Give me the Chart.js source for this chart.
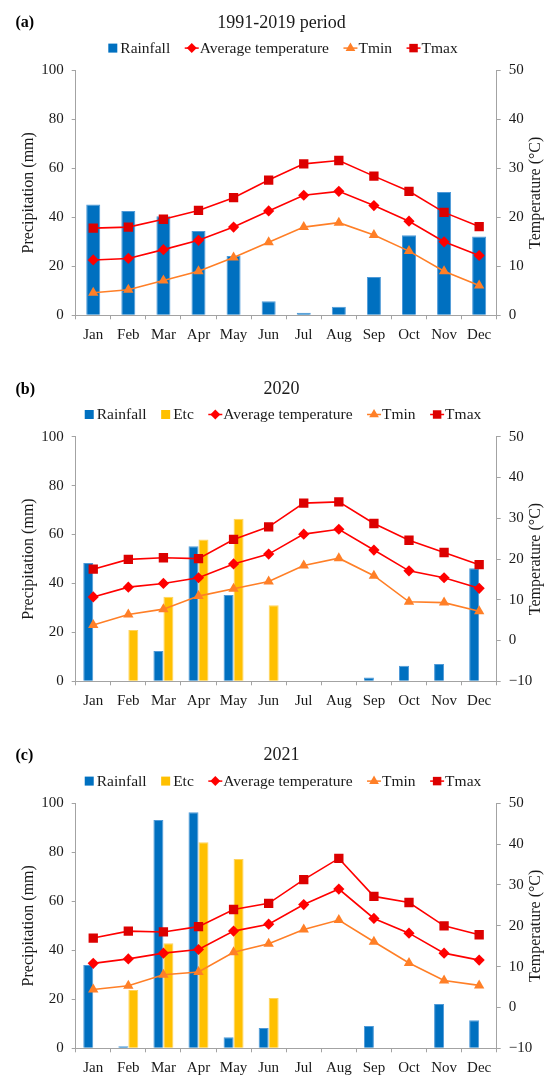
<!DOCTYPE html>
<html>
<head>
<meta charset="utf-8">
<script src="https://cdn.jsdelivr.net/npm/chart.js@4.4.1/dist/chart.umd.min.js"></script>
<style>
  html, body { margin: 0; padding: 0; background: #fff; }
  body { width: 545px; height: 1075px; position: relative; overflow: hidden; }
  .panel { position: absolute; left: 0; width: 545px; }
</style>
</head>
<body>
<div class="panel" style="top:0;height:366px"><canvas id="chartA"></canvas></div>
<div class="panel" style="top:366px;height:366px"><canvas id="chartB"></canvas></div>
<div class="panel" style="top:732px;height:343px"><canvas id="chartC"></canvas></div>
<script>
// ---- data ----
const months = ['Jan', 'Feb', 'Mar', 'Apr', 'May', 'Jun', 'Jul', 'Aug', 'Sep', 'Oct', 'Nov', 'Dec'];

// (a) 1991-2019 long-term means
const rain1991 = [45.2, 42.6, 40.4, 34.4, 24.2, 5.7, 1.0, 3.5, 15.6, 32.7, 50.3, 32.2];
const tavg1991 = [11.3, 11.6, 13.4, 15.3, 18.0, 21.3, 24.5, 25.3, 22.4, 19.2, 15.0, 12.2];
const tmin1991 = [4.6, 5.2, 7.1, 9.0, 11.8, 14.9, 18.0, 18.9, 16.4, 13.1, 9.0, 6.1];
const tmax1991 = [17.8, 18.0, 19.6, 21.4, 24.0, 27.6, 30.9, 31.6, 28.4, 25.3, 21.0, 18.1];

// (b) 2020
const rain2020 = [48.4, null, 12.4, 55.2, 35.3, null, null, null, 1.6, 6.4, 7.1, 46.2];
const etc2020  = [null, 21.0, 34.6, 58.0, 66.5, 31.1, null, null, null, null, null, null];
const tavg2020 = [10.7, 13.1, 14.0, 15.4, 18.8, 21.2, 26.1, 27.3, 22.2, 17.1, 15.4, 12.8];
const tmin2020 = [3.8, 6.4, 7.7, 10.9, 12.7, 14.5, 18.4, 20.2, 15.9, 9.5, 9.3, 7.2];
const tmax2020 = [17.5, 19.9, 20.3, 20.1, 24.8, 27.9, 33.7, 34.0, 28.7, 24.6, 21.6, 18.6];

// (c) 2021
const rain2021 = [34.0, 0.8, 93.2, 96.3, 4.5, 8.3, null, null, 9.1, null, 18.1, 11.4];
const etc2021  = [null, 23.8, 42.9, 84.1, 77.3, 20.5, null, null, null, null, null, null];
const tavg2021 = [10.8, 11.9, 13.3, 14.2, 18.7, 20.4, 25.2, 29.0, 21.8, 18.2, 13.3, 11.6];
const tmin2021 = [4.4, 5.3, 8.0, 8.7, 13.5, 15.6, 19.1, 21.4, 16.1, 10.9, 6.6, 5.4];
const tmax2021 = [17.0, 18.7, 18.5, 19.8, 24.0, 25.5, 31.3, 36.5, 27.2, 25.7, 20.0, 17.8];

// axis ranges
const precipTicks = { min: 0, max: 100, step: 20 };
const tempTicksA = { min: 0, max: 50, step: 10 };
const tempTicksBC = { min: -10, max: 50, step: 10 };

// ---- styling ----
const SERIF = "'Liberation Serif', 'Times New Roman', serif";
const AXIS_GREY = '#A3A3A3';
const TEXT = '#1a1a1a';
const BLUE = '#0070C0';
const GOLD = '#FFC000';
const RED = '#FF0000';
const DARK_RED = '#DC0000';
const ORANGE = '#FF7F27';

Chart.defaults.font.family = SERIF;
Chart.defaults.color = TEXT;

function drawMarker(ctx, style, x, y, r) {
  ctx.beginPath();
  if (style === 'rect') {
    const s = r * Math.SQRT2;
    ctx.rect(x - s / 2, y - s / 2, s, s);
  } else if (style === 'rectRot') {
    ctx.moveTo(x, y - r); ctx.lineTo(x + r, y); ctx.lineTo(x, y + r); ctx.lineTo(x - r, y);
    ctx.closePath();
  } else if (style === 'triangle') {
    for (let k = 0; k < 3; k++) {
      const a = k * 2 * Math.PI / 3;
      const px = x + Math.sin(a) * r, py = y - Math.cos(a) * r;
      if (k === 0) ctx.moveTo(px, py); else ctx.lineTo(px, py);
    }
    ctx.closePath();
  }
  ctx.fill();
}

// legend row, panel tag and right-hand axis title
const panelDecor = {
  id: 'panelDecor',
  afterDraw(chart, args, opts) {
    const ctx = chart.ctx;
    const area = chart.chartArea;
    ctx.save();
    ctx.fillStyle = '#000';
    ctx.textBaseline = 'middle';

    // panel tag
    ctx.font = `bold 16px ${SERIF}`;
    ctx.textAlign = 'left';
    ctx.fillText(opts.tag, 15.5, area.top - 47);

    // right axis title, reading bottom to top
    ctx.save();
    ctx.translate(opts.rightTitleX, (area.top + area.bottom) / 2);
    ctx.rotate(-Math.PI / 2);
    ctx.font = `16px ${SERIF}`;
    ctx.textAlign = 'center';
    ctx.fillStyle = TEXT;
    ctx.fillText(opts.rightTitle, 0, 0);
    ctx.restore();

    // legend
    ctx.font = `15.5px ${SERIF}`;
    ctx.textAlign = 'left';
    const items = chart.data.datasets.map(ds => {
      const isLine = ds.type === 'line';
      const mark = isLine ? 15 : 12;
      return { ds, isLine, mark, w: mark + ctx.measureText(ds.label).width };
    });
    const gap = 14.5;
    const total = items.reduce((s, it) => s + it.w, 0) + gap * (items.length - 1);
    let x = opts.legendCenter - total / 2;
    const y = area.top - 22.2;
    items.forEach(it => {
      const ds = it.ds;
      if (it.isLine) {
        ctx.strokeStyle = ds.borderColor;
        ctx.lineWidth = 1.5;
        ctx.beginPath(); ctx.moveTo(x, y); ctx.lineTo(x + 14, y); ctx.stroke();
        ctx.fillStyle = ds.pointBackgroundColor;
        drawMarker(ctx, ds.pointStyle, x + 7, y, ds.legendRadius);
      } else {
        ctx.fillStyle = ds.backgroundColor;
        ctx.fillRect(x, y - 4.5, 9, 9);
      }
      ctx.fillStyle = TEXT;
      ctx.fillText(ds.label, x + it.mark, y + 0.5);
      x += it.w + gap;
    });
    ctx.restore();
  }
};

function barSet(label, data, color, edge, pct) {
  return {
    type: 'bar', label, data, yAxisID: 'y',
    backgroundColor: color, borderColor: edge,
    borderWidth: { top: 1, left: 1, right: 1, bottom: 0 },
    categoryPercentage: pct, barPercentage: 1, order: 1
  };
}

function lineSet(label, data, color, pointColor, style, radius, legendRadius) {
  return {
    type: 'line', label, data, yAxisID: 'y1',
    borderColor: color, borderWidth: 1.6, tension: 0,
    pointStyle: style, pointRadius: radius, pointBorderWidth: 0,
    pointBackgroundColor: pointColor, pointBorderColor: pointColor,
    legendRadius, order: 0
  };
}

function makePanel(id, cfg) {
  const bars = cfg.etc ? 0.57 : 0.4;
  const datasets = [barSet('Rainfall', cfg.rain, BLUE, '#4F9AD8', bars)];
  if (cfg.etc) datasets.push(barSet('Etc', cfg.etc, GOLD, '#FFD35C', bars));
  datasets.push(lineSet('Average temperature', cfg.tavg, RED, RED, 'rectRot', 5.6, 5));
  datasets.push(lineSet('Tmin', cfg.tmin, ORANGE, ORANGE, 'triangle', 6, 5.6));
  datasets.push(lineSet('Tmax', cfg.tmax, RED, DARK_RED, 'rect', 6.6, 6));

  const plotLeft = 75.7, plotRight = 496.7, padLeft = 18;
  const tickFont = { family: SERIF, size: 15 };

  return new Chart(document.getElementById(id), {
    type: 'bar',
    data: { labels: months, datasets },
    options: {
      responsive: true, maintainAspectRatio: false, animation: false,
      devicePixelRatio: 1, events: [],
      layout: { padding: { left: padLeft, right: 0, top: 0, bottom: 0 } },
      plugins: {
        legend: { display: false },
        tooltip: { enabled: false },
        title: {
          display: true, text: cfg.title, color: TEXT,
          font: { family: SERIF, size: 18, weight: 'normal' },
          padding: { top: 12.5, bottom: cfg.top - 34.1 }
        },
        panelDecor: { tag: cfg.tag, rightTitle: 'Temperature (°C)', rightTitleX: 536, legendCenter: 283 }
      },
      scales: {
        x: {
          grid: { display: true, drawOnChartArea: false, drawTicks: true, tickLength: 4, color: AXIS_GREY, offset: true },
          border: { display: true, color: AXIS_GREY, width: 1 },
          ticks: { font: tickFont, color: TEXT, padding: 7, maxRotation: 0, autoSkip: false },
          afterFit: s => { s.height = cfg.height - cfg.bottom; }
        },
        y: {
          position: 'left',
          min: precipTicks.min, max: precipTicks.max,
          ticks: { stepSize: precipTicks.step, font: tickFont, color: TEXT, padding: 8 },
          grid: { drawOnChartArea: false, drawTicks: true, tickLength: 4, color: AXIS_GREY },
          border: { display: true, color: AXIS_GREY, width: 1 },
          title: { display: true, text: 'Precipitation (mm)', color: TEXT, font: { family: SERIF, size: 16 }, padding: { top: 0.8, bottom: 0 } },
          afterFit: s => { s.width = plotLeft - padLeft; }
        },
        y1: {
          position: 'right',
          min: cfg.temp.min, max: cfg.temp.max,
          ticks: {
            stepSize: cfg.temp.step, font: tickFont, color: TEXT, padding: 8,
            callback: v => (v < 0 ? '\u2212' + Math.abs(v) : String(v))
          },
          grid: { drawOnChartArea: false, drawTicks: true, tickLength: 4, color: AXIS_GREY },
          border: { display: true, color: AXIS_GREY, width: 1 },
          afterFit: s => { s.width = 545 - plotRight; }
        }
      }
    },
    plugins: [panelDecor]
  });
}

makePanel('chartA', { tag: '(a)', title: '1991-2019 period', rain: rain1991, tavg: tavg1991, tmin: tmin1991, tmax: tmax1991, temp: tempTicksA, top: 70.3, bottom: 315.3, height: 366 });
makePanel('chartB', { tag: '(b)', title: '2020', rain: rain2020, etc: etc2020, tavg: tavg2020, tmin: tmin2020, tmax: tmax2020, temp: tempTicksBC, top: 70.7, bottom: 315.3, height: 366 });
makePanel('chartC', { tag: '(c)', title: '2021', rain: rain2021, etc: etc2021, tavg: tavg2021, tmin: tmin2021, tmax: tmax2021, temp: tempTicksBC, top: 71.3, bottom: 316.3, height: 343 });
</script>
</body>
</html>
